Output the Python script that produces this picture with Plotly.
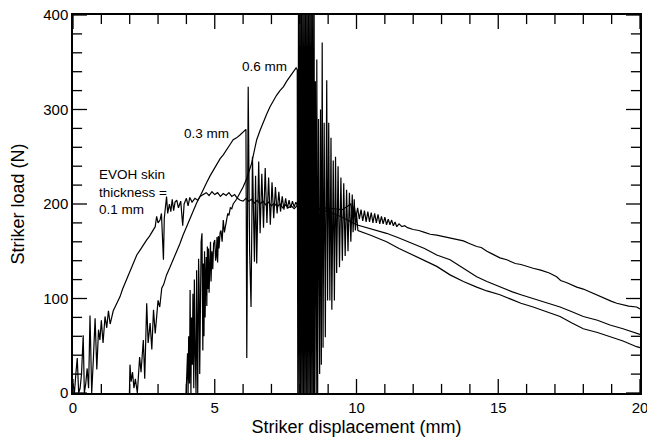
import plotly.graph_objects as go

# ---- data (Striker displacement mm, Striker load N) ----
x_01 = [0.00, 0.05, 0.10, 0.15, 0.20, 0.25, 0.30, 0.36, 0.40, 0.45, 0.50, 0.55, 0.60, 0.66, 0.72, 0.78,
        0.84, 0.90, 0.95, 1.00, 1.06, 1.13, 1.19, 1.25, 1.31, 1.36, 1.42, 1.50, 1.58, 1.66, 1.75, 1.82,
        1.89, 2.00, 2.13, 2.25, 2.36, 2.48, 2.60, 2.70, 2.83, 2.90, 2.95, 3.00, 3.07, 3.12, 3.19, 3.22,
        3.30, 3.34, 3.40, 3.45, 3.50, 3.55, 3.60, 3.66, 3.72, 3.80, 3.87, 3.92, 4.00, 4.06, 4.12, 4.20,
        4.30, 4.40, 4.48, 4.60, 4.70, 4.80, 4.90, 5.00, 5.10, 5.20, 5.30, 5.40, 5.50, 5.60, 5.70, 5.80,
        5.90, 6.00, 6.10, 6.20, 6.30, 6.40, 6.50, 6.60, 6.70, 6.80, 6.90, 7.00, 7.10, 7.20, 7.30, 7.40,
        7.50, 7.60, 7.70, 7.80, 7.90, 8.00, 8.30, 8.60, 8.90, 9.20, 9.50, 9.80, 9.86, 9.92, 9.98, 10.04,
        10.10, 10.16, 10.22, 10.28, 10.34, 10.40, 10.46, 10.52, 10.58, 10.64, 10.70, 10.76, 10.82, 10.88,
        10.94, 11.00, 11.06, 11.12, 11.18, 11.24, 11.30, 11.36, 11.42, 11.50, 11.60, 11.70, 11.80, 12.00,
        12.20, 12.40, 12.60, 12.83, 13.00, 13.30, 13.50, 13.77, 14.00, 14.24, 14.40, 14.60, 14.80, 15.06,
        15.30, 15.60, 15.80, 16.00, 16.23, 16.50, 16.80, 17.06, 17.20, 17.40, 17.60, 17.77, 18.00, 18.30,
        18.59, 18.80, 19.00, 19.18, 19.40, 19.60, 19.88, 20.00]
y_01 = [10, 0, 20, 37, 0, 5, 20, 61, 0, 10, 26, 5, 82, 0, 37, 79,
        25, 67, 56, 77, 53, 81, 69, 87, 73, 80, 87, 92, 97, 102, 110, 115,
        120, 129, 139, 146, 151, 157, 162, 166, 172, 176, 187, 180, 183, 190, 141, 185,
        208, 190, 200, 192, 205, 193, 202, 204, 196, 203, 177, 200, 206, 198, 207, 202,
        206, 204, 208, 210, 212, 209, 213, 210, 212, 208, 211, 209, 212, 208, 210, 206,
        204, 203, 206, 203, 205, 201, 204, 200, 203, 199, 202, 198, 201, 197, 200, 196,
        199, 196, 198, 195, 198, 196, 197, 195, 196, 195, 194, 200, 188, 198, 186, 196,
        184, 194, 182, 193, 181, 192, 181, 191, 180, 190, 180, 189, 179, 187,
        179, 186, 178, 184, 178, 183, 177, 181, 176, 179, 176, 177, 175, 173,
        172, 170, 168, 167, 166, 164, 163, 161, 158, 155, 154, 150, 147, 143,
        141, 137, 136, 134, 132, 130, 127, 123, 119, 117, 114, 112, 110, 106,
        102, 99, 97, 95, 93, 92, 91, 89]

x_03 = [1.99, 2.01, 2.05, 2.10, 2.15, 2.20, 2.27, 2.35, 2.40, 2.48, 2.53, 2.60, 2.65, 2.72, 2.78, 2.84,
        2.90, 2.95, 3.00, 3.06, 3.13, 3.20, 3.30, 3.42, 3.54, 3.65, 3.77, 3.88, 4.00, 4.12, 4.24, 4.36,
        4.48, 4.60, 4.72, 4.84, 4.95, 5.07, 5.19, 5.30, 5.42, 5.54, 5.65, 5.77, 5.89, 5.98, 6.07, 6.10,
        6.13, 6.18, 6.23, 6.28, 6.33, 6.40, 6.44, 6.48, 6.55, 6.60, 6.66, 6.72, 6.78, 6.84, 6.90, 6.96,
        7.02, 7.08, 7.14, 7.20, 7.26, 7.32, 7.38, 7.44, 7.50, 7.56, 7.62, 7.68, 7.74, 7.80, 7.86, 7.92,
        8.00, 8.50, 9.00, 9.50, 10.00, 10.50, 11.06, 11.50, 12.00, 12.40, 12.83, 13.30, 13.77, 14.24,
        14.60, 15.06, 15.50, 15.80, 16.23, 16.60, 17.18, 17.60, 18.00, 18.50, 18.94, 19.40, 19.88, 20.00]
y_03 = [0, 30, 12, 22, 5, 15, 0, 38, 22, 56, 15, 95, 53, 74, 46, 88,
        63, 85, 98, 91, 111, 115, 125, 133, 141, 150, 158, 167, 176, 185, 194, 201,
        208, 216, 223, 230, 236, 242, 248, 252, 257, 263, 268, 270, 273, 276, 278, 279,
        37, 324, 150, 91, 250, 139, 230, 137, 245, 169, 232, 175, 238, 180, 228, 178,
        223, 185, 218, 190, 213, 192, 208, 194, 206, 195, 204, 196, 203, 197, 202, 198,
        199, 196, 192, 186, 178, 174, 169, 164, 158, 153, 146, 141, 132, 123,
        118, 112, 107, 104, 100, 96, 91, 86, 81, 77, 72, 68, 63, 62]

x_06 = [3.99, 4.02, 4.04, 4.06, 4.08, 4.11, 4.13, 4.16, 4.18, 4.21, 4.23, 4.26, 4.28, 4.31, 4.34, 4.36,
        4.38, 4.40, 4.43, 4.45, 4.47, 4.49, 4.52, 4.55, 4.58, 4.60, 4.62, 4.64, 4.66, 4.68, 4.70, 4.72,
        4.74, 4.76, 4.78, 4.80, 4.82, 4.85, 4.87, 4.90, 4.93, 4.96, 5.00, 5.03, 5.05, 5.08, 5.10, 5.13,
        5.15, 5.19, 5.22, 5.26, 5.30, 5.34, 5.38, 5.42, 5.46, 5.50, 5.55, 5.60, 5.65,
        5.77, 5.89, 6.00, 6.13, 6.22, 6.30, 6.40, 6.48, 6.60, 6.71, 6.83, 6.95, 7.07, 7.18, 7.30, 7.42,
        7.54, 7.65, 7.77, 7.87, 7.91,
        7.930, 7.955, 7.980, 8.005, 8.030, 8.055, 8.080, 8.105, 8.130, 8.155, 8.180, 8.205, 8.230, 8.255,
        8.280, 8.305, 8.330, 8.355, 8.380, 8.405, 8.430, 8.455, 8.480, 8.505,
        8.52, 8.55, 8.58, 8.60, 8.63, 8.66, 8.70, 8.73, 8.76, 8.79, 8.82, 8.86, 8.90, 8.95, 8.98, 9.02,
        9.06, 9.10, 9.13, 9.18, 9.22, 9.26, 9.30, 9.35, 9.40, 9.45, 9.50, 9.55, 9.60, 9.65, 9.70, 9.75,
        9.80, 9.85, 9.88, 9.92, 9.96, 10.00, 10.05, 10.50, 11.06, 11.50, 12.00, 12.40, 12.83, 13.30,
        13.77, 14.24, 14.60, 15.06, 15.50, 15.80, 16.23, 16.70, 17.18, 17.60, 18.00, 18.50, 18.94, 19.40,
        19.88, 20.00]
y_06 = [0, 25, 42, 0, 60, 10, 109, 0, 80, 30, 105, 5, 120, 40, 0, 130,
        60, 0, 142, 110, 20, 120, 160, 169, 45, 137, 60, 150, 80, 120, 144, 92,
        155, 110, 153, 106, 125, 160, 118, 150, 131, 158, 162, 140, 144, 165, 138, 166,
        153, 170, 172, 160, 183, 170, 178, 185, 190, 188, 196, 195, 200,
        205, 211, 218, 227, 235, 243, 257, 268, 278, 287, 295, 303, 310, 315, 320, 324,
        330, 335, 340, 344, 342,
        -20, 430, -20, 430, -20, 430, -20, 430, -20, 430, -20, 430, -20, 430,
        -20, 430, -20, 430, -20, 430, -20, 430, -20, 430,
        0, 330, 0, 353, 0, 290, 20, 300, 30, 371, 48, 286, 59, 331, 98, 286,
        98, 270, 88, 246, 98, 250, 127, 240, 133, 228, 140, 222, 145, 215, 150, 212,
        160, 210, 170, 205, 172, 190, 172, 167, 160, 153, 146, 140, 134, 125,
        118, 112, 108, 104, 99, 95, 91, 86, 81, 74, 68, 64, 60, 55,
        49, 48]

# axis ranges and tick positions (axis scale values)
X_RANGE = [0, 20]
Y_RANGE = [0, 400]
x_major = [0, 5, 10, 15, 20]
x_minor = [v for v in range(0, 21) if v % 5]
y_major = [0, 100, 200, 300, 400]
y_minor = [v for v in range(0, 401, 20) if v % 100]

FONT = "Liberation Sans, Arial, Helvetica, sans-serif"
line_style = dict(color="black", width=1.2)

W, H = 647, 443
ML, MR, MT, MB = 73, 7, 15, 50

fig = go.Figure()
for xs, ys, name in [(x_01, y_01, "0.1 mm"), (x_03, y_03, "0.3 mm"), (x_06, y_06, "0.6 mm")]:
    fig.add_trace(go.Scatter(x=xs, y=ys, mode="lines", line=line_style, name=name,
                             showlegend=False, hoverinfo="skip"))

# inside, mirrored tick marks on all four sides: line markers centred on the axis lines,
# clipped to the plot area so that only the inner half shows
def tick_marks(xs, ys, symbol, size):
    return go.Scatter(x=xs, y=ys, mode="markers", cliponaxis=True, showlegend=False, hoverinfo="skip",
                      marker=dict(symbol=symbol, size=size, color="black",
                                  line=dict(color="black", width=1.3)))

for vals, size in [(x_major, 20), (x_minor, 13)]:
    fig.add_trace(tick_marks(vals + vals, [Y_RANGE[0]] * len(vals) + [Y_RANGE[1]] * len(vals),
                             "line-ns", size))
for vals, size in [(y_major, 20), (y_minor, 13)]:
    fig.add_trace(tick_marks([X_RANGE[0]] * len(vals) + [X_RANGE[1]] * len(vals), vals + vals,
                             "line-ew", size))

fig.update_layout(
    width=W, height=H,
    margin=dict(l=ML, r=MR, t=MT, b=MB, autoexpand=False),
    paper_bgcolor="white", plot_bgcolor="white",
    font=dict(family=FONT, color="black"),
    template="none",
    xaxis=dict(
        range=X_RANGE, tickvals=x_major,
        showgrid=False, zeroline=False, showline=True, linecolor="black", linewidth=1.5,
        mirror=True, ticks="",
        tickfont=dict(family=FONT, size=15, color="black"), automargin=False,
        ticklabeloverflow="allow",
        title=dict(text="Striker displacement (mm)", font=dict(family=FONT, size=18, color="black"),
                   standoff=6),
    ),
    yaxis=dict(
        range=Y_RANGE, tickvals=y_major,
        showgrid=False, zeroline=False, showline=True, linecolor="black", linewidth=1.5,
        mirror=True, ticks="",
        tickfont=dict(family=FONT, size=15, color="black"), automargin=False,
        title=dict(text="Striker load (N)", font=dict(family=FONT, size=18, color="black"),
                   standoff=14),
    ),
)

ann_font = dict(family=FONT, size=13.5, color="black")
fig.add_annotation(x=0.85, y=213, xref="x", yref="y", text="EVOH skin<br>thickness =<br>0.1 mm",
                   showarrow=False, xanchor="left", yanchor="middle", align="left", font=ann_font)
fig.add_annotation(x=5.57, y=275, xref="x", yref="y", text="0.3 mm",
                   showarrow=False, xanchor="right", yanchor="middle", font=ann_font)
fig.add_annotation(x=7.62, y=345, xref="x", yref="y", text="0.6 mm",
                   showarrow=False, xanchor="right", yanchor="middle", font=ann_font)

fig.write_html("out.html", config={"displayModeBar": False},
               post_script="document.body.style.margin='0px';")
